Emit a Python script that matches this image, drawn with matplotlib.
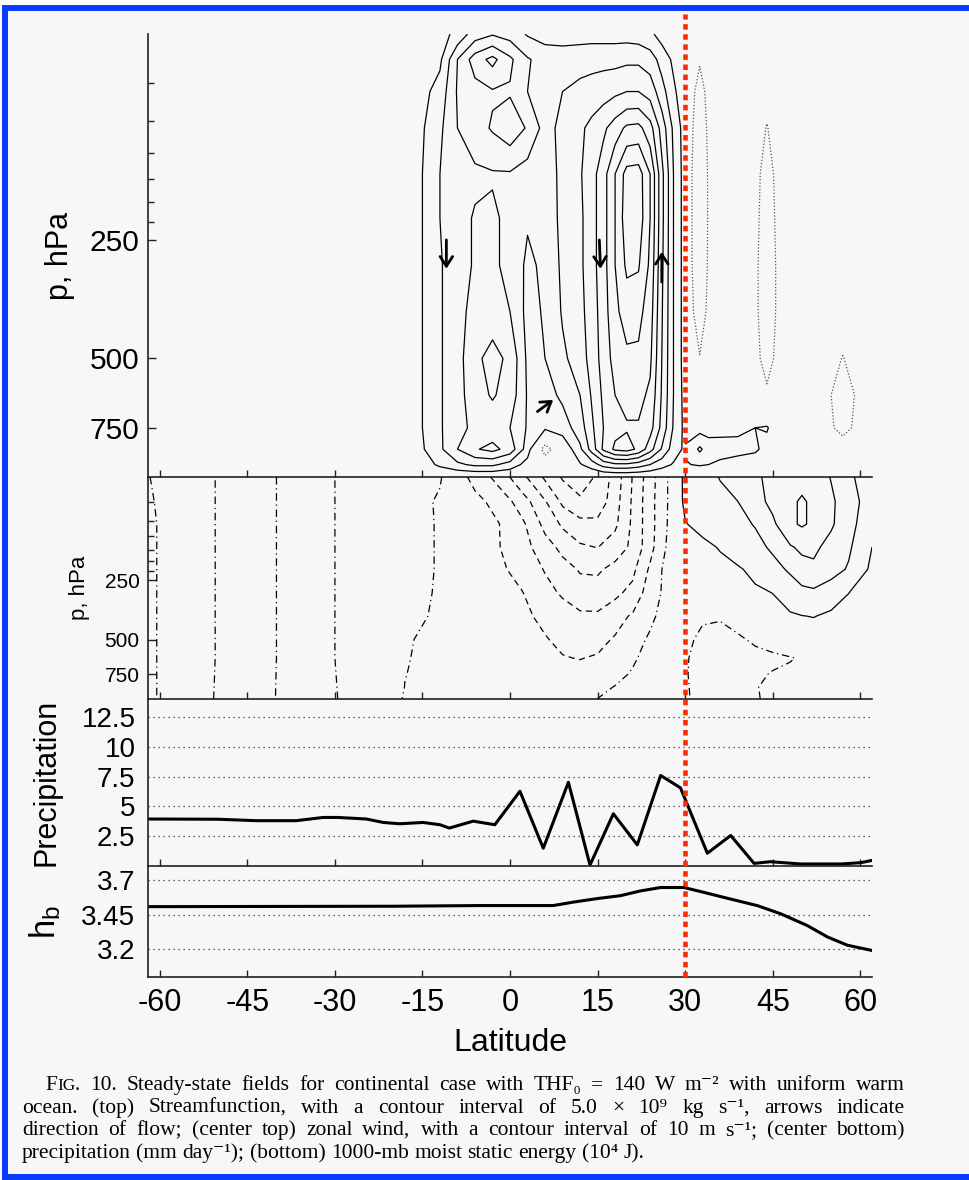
import numpy as np
import matplotlib
matplotlib.use("Agg")
import matplotlib.pyplot as plt
from matplotlib.ticker import FixedLocator, NullFormatter
from matplotlib.transforms import blended_transform_factory
from matplotlib.lines import Line2D
from matplotlib.patches import Rectangle

plt.rcParams['font.family'] = ['Liberation Sans', 'DejaVu Sans']
plt.rcParams['mathtext.default'] = 'regular'

# ---------------- streamfunction (units of 5e9 kg/s) ----------------
p_a = [75, 87, 105, 130, 170, 220, 290, 380, 500, 620, 750, 850, 930, 1000]
lat_a = [-62, -18, -15, -12, -9, -6, -3, 0, 3, 6, 9, 12, 14, 16, 18, 20, 22, 24, 26, 28, 30]
psi_a = [
    [0, 0, 0.2, 0.6, 1.3, 2.5, 2.9, 2.6, 1.9, 1.6, 1.5, 1.6, 1.6, 1.6, 1.6, 1.6, 1.5, 1.2, 0.6, 0.3, 0],
    [0, 0, 0.4, 0.8, 3.0, 4.5, 5.3, 4.2, 3.1, 2.6, 2.6, 2.6, 2.7, 2.7, 2.7, 2.8, 2.8, 2.5, 1.6, 0.8, 0.2],
    [0, 0, 0.7, 1.4, 3.1, 3.6, 3.9, 3.9, 3.0, 2.8, 3.0, 3.3, 3.4, 3.6, 3.8, 4.0, 4.0, 3.6, 2.4, 1.2, 0.3],
    [0, 0, 0.9, 1.8, 3.0, 3.6, 4.1, 4.6, 3.9, 2.6, 3.3, 3.8, 4.3, 4.8, 5.5, 6.2, 6.3, 5.4, 3.6, 1.8, 0.5],
    [0, 0, 1.0, 2.0, 2.6, 2.8, 2.9, 2.9, 2.5, 2.4, 3.3, 3.9, 4.6, 5.6, 7.0, 8.4, 8.5, 7.0, 4.3, 2.0, 0.5],
    [0, 0, 1.0, 2.0, 2.6, 3.1, 3.2, 2.7, 2.1, 2.3, 3.3, 3.8, 4.6, 5.6, 7.0, 8.6, 8.6, 7.0, 4.3, 2.0, 0.5],
    [0, 0, 1.0, 1.9, 2.6, 3.1, 3.2, 2.7, 1.8, 2.2, 3.2, 3.8, 4.6, 5.6, 7.0, 8.2, 8.1, 6.8, 4.2, 2.0, 0.5],
    [0, 0, 1.0, 1.9, 2.6, 3.4, 3.6, 3.0, 1.7, 2.1, 3.1, 3.7, 4.5, 5.5, 6.8, 7.4, 7.3, 6.5, 4.1, 2.0, 0.5],
    [0, 0, 1.0, 1.9, 2.6, 3.8, 4.3, 3.8, 1.8, 2.0, 2.8, 3.5, 4.4, 5.4, 6.4, 6.8, 6.8, 6.2, 4.0, 2.0, 0.5],
    [0, 0, 1.0, 1.9, 2.6, 3.6, 4.1, 3.6, 1.9, 1.6, 2.2, 3.0, 4.1, 5.2, 6.0, 6.3, 6.3, 5.8, 3.9, 2.0, 0.6],
    [0, 0, 1.0, 1.9, 2.6, 3.3, 3.4, 3.0, 1.9, 1.2, 1.5, 2.5, 3.8, 5.0, 5.7, 5.9, 5.9, 5.4, 3.7, 1.9, 0.7],
    [0, 0, 0.9, 1.8, 3.0, 3.9, 4.3, 3.6, 1.5, -1.6, 0.1, 1.8, 3.4, 5.2, 6.2, 6.4, 5.8, 4.4, 2.9, 1.5, 0.8],
    [0, 0, 0.5, 1.2, 1.8, 2.2, 2.2, 1.6, 0.6, -0.1, 0.1, 0.9, 1.5, 2.4, 2.8, 2.8, 2.5, 2.0, 1.4, 0.9, 0.6],
    [0] * 21,
]
lat_b = [30, 31, 32.5, 34, 36, 39, 42, 44, 46, 48, 51, 54.5, 57, 59.5, 62]
psi_b = [
    [0, -0.1, -0.3, -0.1, 0, 0, 0, 0, 0, 0, 0, 0, 0, 0, 0],
    [0, -0.4, -0.9, -0.4, 0, 0, 0, 0, 0, 0, 0, 0, 0, 0, 0],
    [0, -0.7, -1.4, -0.7, 0, 0, -0.3, -0.6, -0.3, 0, 0, 0, 0, 0, 0],
    [0, -0.8, -1.7, -0.8, 0, 0, -0.5, -1.05, -0.5, 0, 0, 0, 0, 0, 0],
    [0, -0.9, -1.8, -0.9, 0, 0, -0.7, -1.4, -0.7, 0, 0, 0, 0, 0, 0],
    [0, -0.9, -1.8, -0.9, 0, 0, -0.75, -1.5, -0.75, 0, 0, 0, 0, 0, 0],
    [0, -0.9, -1.7, -0.9, 0, 0, -0.8, -1.6, -0.8, 0, 0, 0, 0, 0, 0],
    [0, -0.8, -1.5, -0.8, 0, 0, -0.8, -1.6, -0.8, 0, 0, -0.2, -0.4, -0.2, 0],
    [0, -0.5, -0.95, -0.5, 0, 0, -0.7, -1.4, -0.7, 0, 0, -0.5, -1.05, -0.5, 0],
    [0, -0.2, -0.4, -0.2, 0, 0, -0.4, -0.8, -0.4, 0, 0, -0.9, -1.4, -0.9, 0],
    [0.4, 0.5, 0.6, 0.6, 0.7, 0.8, 1.0, 1.1, 0.3, 0, 0, -0.8, -1.3, -0.8, 0],
    [1.2, 1.4, 2.2, 1.5, 1.4, 1.3, 1.2, 0.6, 0.1, 0, 0, -0.3, -0.5, -0.3, 0],
    [0.9, 1.0, 1.1, 1.0, 0.8, 0.6, 0.3, 0.1, 0, 0, 0, 0, -0.1, 0, 0],
    [0] * 15,
]
psi_levels = [1, 2, 3, 4, 5, 6, 7, 8, 9]

# flow arrows: tail -> tip
arrow_tail_lat = [-10.9, 15.3, 26.0, 4.7]
arrow_tail_p = [250, 250, 320, 682]
arrow_tip_lat = [-10.9, 15.5, 26.0, 7.4]
arrow_tip_p = [296, 296, 268, 637]

# ---------------- zonal wind (m/s) ----------------
p_u = [75, 100, 130, 170, 220, 290, 380, 500, 620, 750, 870, 1000]
lat_u = [-62, -55, -45, -35, -24, -18, -12, -6, -2, 2, 6, 9, 12, 15, 18, 21, 24, 27,
         30, 33, 36, 39, 42, 45, 48, 50, 52, 55, 58, 62]
u_wind = [
    [0.3, -5.5, 6.7, -6.7, 8, 4, 0.7, -12.9, -23.5, -36.9, -51.6, -61, -65.5, -58.5, -46, -29.5, -14.3, 0,
     12, 16, 20.5, 24.3, 28.2, 33, 37, 37.5, 35.5, 29.5, 22, 14],
    [1.0, -5.5, 6.7, -6.7, 8, 4, -1.0, -7.3, -13.2, -24.7, -39.1, -52, -58, -56.4, -44.2, -28.6, -13.5, 0,
     11.8, 14.8, 17, 19.9, 26.5, 32.5, 38.5, 41, 38.5, 32, 23.5, 16],
    [1.5, -5.5, 6.7, -6.7, 8, 4, -0.8, -6.1, -9.6, -17.5, -33, -41.5, -46.6, -47.2, -42, -28.2, -13.7, 0.3,
     9.5, 13, 15.5, 17.8, 20.5, 28, 38.5, 41, 38.5, 31.5, 23, 14],
    [1.5, -5.5, 6.7, -6.7, 8, 4, -0.8, -6, -9.5, -15.9, -25.5, -32.9, -38.5, -40.3, -34.6, -28.2, -13.3, 1.5,
     4.5, 7.5, 10.7, 14.1, 17.3, 21.5, 29, 32, 32.5, 26, 21.5, 10],
    [1.5, -5.5, 6.7, -6.7, 8, 4, -0.8, -5.2, -8.2, -13.1, -20.7, -25.8, -31, -31.4, -27.2, -22.5, -8.3, 4,
     4.5, 5.5, 7, 9, 12.2, 16.7, 21.5, 26, 27.5, 24, 19, 8],
    [1.5, -5.5, 6.7, -6.7, 8, 3.5, -1, -5.3, -7.1, -9.5, -16.5, -21.4, -25, -25.6, -22.2, -17, -4.8, 3,
     3.5, 4.2, 5.4, 7, 8.5, 10.1, 14, 17, 18, 14, 10.1, 4],
    [1.5, -5.5, 6.7, -6.7, 8, 2.5, -1.3, -4.5, -6.6, -8.6, -11.5, -14.7, -18.3, -18.4, -13.6, -8.8, -1.9, 4,
     3.5, 0.8, 0.5, 2.5, 5, 7, 9, 9.8, 10.3, 8.5, 6.5, 2],
    [1.5, -5.5, 6.7, -6.7, 8, 0.7, -2, -4.4, -6.1, -7.8, -9.5, -11.6, -14.3, -12.8, -9, -3.8, 1.4, 3,
     1.5, -1.5, -2, -1, 1, 2.5, 4, 5, 5, 4, 3, 1.5],
    [1.5, -5.5, 6.7, -6.7, 8, 0.4, -2, -4, -5.5, -6.9, -8.4, -9.6, -10.3, -9.1, -5.5, -1.2, 3, 2.5,
     0.4, -1.5, -2.5, -2.5, -2, -1.2, -0.3, 0.5, 1.5, 1.5, 1.2, 1],
    [1.5, -5.5, 7, -7.2, 8, 0.1, -1.6, -3.3, -4.5, -5.4, -6.2, -6.8, -7, -5.4, -2.4, 0.9, 2, 2,
     0.3, -1.5, -2, -1.8, -1, 0.4, 1, 0.8, 0.5, 0.5, 0.8, 1],
    [1.5, -5.5, 7.2, -7.6, 8, -0.1, -1.2, -2.5, -3.3, -4, -4.6, -5, -4.8, -2.3, 0.35, 1.2, 2, 1.5,
     0.3, -1, -1.5, -1.2, -0.2, 0.8, 1, 1, 1, 1, 1, 1],
    [1.5, -5.5, 7.5, -8, 8, -0.7, -1.3, -2.1, -2.6, -2.9, -3, -3, -2.2, 0.1, 1, 1.5, 2, 1.5,
     0.3, -0.8, -1.2, -1, -0.2, 0.5, 0.8, 0.8, 0.8, 0.8, 0.8, 0.8],
]
u_neg_levels = [-60, -50, -40, -30, -20, -10]
u_pos_levels = [10, 20, 30, 40]

# ---------------- precipitation (mm/day) ----------------
lat_pr = [-62, -50, -43.5, -36.6, -32, -29.5, -24.6, -21.7, -18.9, -14.9, -12, -10.4, -6.3, -2.6,
          1.7, 5.7, 10.0, 13.7, 17.7, 21.8, 25.8, 29.2, 33.8, 37.8, 41.8, 44.6, 49.8, 56.7, 60.1, 61.8]
precip = [3.94, 3.92, 3.8, 3.8, 4.07, 4.07, 3.94, 3.65, 3.54, 3.65, 3.46, 3.18, 3.76, 3.46,
          6.27, 1.49, 7.02, 0.08, 4.38, 1.77, 7.59, 6.55, 1.07, 2.56, 0.22, 0.36, 0.17, 0.17, 0.28, 0.45]

# ---------------- 1000-mb moist static energy (1e4 J) ----------------
lat_h = [-62, -20, -5, 7.4, 10.9, 14.9, 18.9, 22.3, 25.8, 29.8, 33.2, 36.6, 42.4, 46.4, 50.9, 54.4, 57.8, 61.8]
h_b = [3.507, 3.51, 3.515, 3.515, 3.54, 3.565, 3.586, 3.62, 3.645, 3.645, 3.61, 3.574, 3.514, 3.455,
       3.371, 3.288, 3.229, 3.193]

lat_ticks = [-60, -45, -30, -15, 0, 15, 30, 45, 60]
caption = [
    "F|IG|. 10. Steady-state fields for continental case with THF\u2080 = 140 W m\u207b\u00b2 with uniform warm",
    "ocean. (top) Streamfunction, with a contour interval of 5.0 \u00d7 10\u2079 kg s\u207b\u00b9, arrows indicate",
    "direction of flow; (center top) zonal wind, with a contour interval of 10 m s\u207b\u00b9; (center bottom)",
    "precipitation (mm day\u207b\u00b9); (bottom) 1000-mb moist static energy (10\u2074 J).",
]

W, H = 969, 1180
fig = plt.figure(figsize=(W / 100, H / 100), dpi=100, facecolor='white')


def box(l, t, r, b):
    return [l / W, 1 - b / H, (r - l) / W, (b - t) / H]


# page background and blue frame
fig.add_artist(Rectangle((7 / W, 1 - 1174 / H), 1 - 7 / W, (1174 - 11) / H, transform=fig.transFigure,
                         facecolor='#f7f7f7', edgecolor='none', zorder=-5))
blue = '#0a3cff'
fig.add_artist(Line2D([4.5 / W, 4.5 / W, 1], [1 - 1177 / H, 1 - 8 / H, 1 - 8 / H], transform=fig.transFigure,
                      color=blue, lw=4.3, solid_joinstyle='miter'))
fig.add_artist(Line2D([4.5 / W, 1], [1 - 1177 / H, 1 - 1177 / H], transform=fig.transFigure, color=blue, lw=4.3))

ax1 = fig.add_axes(box(148, 34, 872, 477))
ax2 = fig.add_axes(box(148, 477, 872, 699))
ax3 = fig.add_axes(box(148, 699, 872, 866))
ax4 = fig.add_axes(box(148, 866, 872, 977))
axes = [ax1, ax2, ax3, ax4]

for ax in axes:
    ax.set_facecolor('none')
    ax.set_xlim(-62, 62)
    for s in ['top', 'right']:
        ax.spines[s].set_visible(False)
    for s in ['left', 'bottom']:
        ax.spines[s].set_linewidth(1.2)
        ax.spines[s].set_color('#222222')
    ax.set_xticks(lat_ticks)
    ax.tick_params(axis='x', direction='in', length=5, width=1, color='#222222', labelbottom=False)
    ax.tick_params(axis='y', direction='in', length=6, width=1, color='#222222', pad=6)

# ---- panel 1: streamfunction
ax1.set_yscale('log')
ax1.contour(lat_a, p_a, psi_a, levels=psi_levels, colors='k', linewidths=0.9, linestyles='solid')
ax1.contour(lat_a, p_a, psi_a, levels=[-1], colors='#555555', linewidths=0.9, linestyles=[(0, (1, 1.6))])
ax1.contour(lat_b, p_a, psi_b, levels=psi_levels, colors='k', linewidths=0.9, linestyles='solid')
ax1.contour(lat_b, p_a, psi_b, levels=[-1], colors='#555555', linewidths=0.9, linestyles=[(0, (1, 1.6))])
for i in range(len(arrow_tip_lat)):
    ax1.annotate('', xy=(arrow_tip_lat[i], arrow_tip_p[i]), xytext=(arrow_tail_lat[i], arrow_tail_p[i]),
                 arrowprops=dict(arrowstyle='->,head_length=0.7,head_width=0.45', lw=2, color='k',
                                 shrinkA=0, shrinkB=0))

for ax in [ax1, ax2]:
    ax.set_ylim(1000, 75)
    ax.yaxis.set_major_locator(FixedLocator([250, 500, 750]))
    ax.set_yticklabels(['250', '500', '750'])
    ax.yaxis.set_minor_locator(FixedLocator([100, 125, 150, 175, 200, 225]))
    ax.yaxis.set_minor_formatter(NullFormatter())
    ax.tick_params(axis='y', which='minor', direction='in', length=4, width=1, color='#222222')
ax1.tick_params(axis='y', labelsize=21.5)
ax1.set_ylabel('p, hPa', fontsize=22)
ax1.yaxis.set_label_coords(-0.101, 0.5)

# ---- panel 2: zonal wind
ax2.set_yscale('log')
ax2.set_ylim(1000, 75)
ax2.yaxis.set_major_locator(FixedLocator([250, 500, 750]))
ax2.set_yticklabels(['250', '500', '750'])
ax2.yaxis.set_minor_locator(FixedLocator([100, 125, 150, 175, 200, 225]))
ax2.yaxis.set_minor_formatter(NullFormatter())
ax2.contour(lat_u, p_u, u_wind, levels=u_neg_levels, colors='k', linewidths=0.9, linestyles=[(0, (5, 3.5))])
ax2.contour(lat_u, p_u, u_wind, levels=[0], colors='k', linewidths=0.9, linestyles=[(0, (6, 3, 1, 3))])
ax2.contour(lat_u, p_u, u_wind, levels=u_pos_levels, colors='k', linewidths=0.9, linestyles='solid')
ax2.tick_params(axis='y', labelsize=15)
ax2.set_ylabel('p, hPa', fontsize=16)
ax2.yaxis.set_label_coords(-0.080, 0.5)

# ---- panel 3: precipitation
ax3.plot(lat_pr, precip, color='k', lw=2.2)
ax3.set_ylim(0, 14)
ax3.set_yticks([2.5, 5, 7.5, 10, 12.5])
ax3.set_yticklabels(['2.5', '5', '7.5', '10', '12.5'])
ax3.tick_params(axis='y', labelsize=20, length=0, pad=9)
ax3.yaxis.grid(True, linestyle=(0, (1, 3)), color='#333333', lw=0.9)
ax3.set_ylabel('Precipitation', fontsize=22)
ax3.yaxis.set_label_coords(-0.119, 0.5)

# ---- panel 4: moist static energy
ax4.plot(lat_h, h_b, color='k', lw=2.2)
ax4.set_ylim(3.0, 3.8)
ax4.set_yticks([3.2, 3.45, 3.7])
ax4.set_yticklabels(['3.2', '3.45', '3.7'])
ax4.tick_params(axis='y', labelsize=20, length=0, pad=9)
ax4.yaxis.grid(True, linestyle=(0, (1, 3)), color='#333333', lw=0.9)
ax4.set_ylabel('$h_b$', fontsize=25)
ax4.yaxis.set_label_coords(-0.117, 0.5)
ax4.tick_params(axis='x', labelbottom=True, labelsize=22, pad=8)
ax4.set_xticklabels([str(v) for v in lat_ticks])
ax4.set_xlabel('Latitude', fontsize=23, labelpad=7)

# red dotted line at 30N through all panels
red = Line2D([30, 30], [1 - 977 / H, 1 - 14 / H], transform=blended_transform_factory(ax4.transData, fig.transFigure),
             color='#ff2a00', lw=3.3, linestyle=(0, (1.2, 1.0)), dash_capstyle='butt')
fig.add_artist(red)

# caption, justified word by word like the journal layout
serif = ['Liberation Serif', 'DejaVu Serif']
cap_size = 15.5
fig.canvas.draw()
renderer = fig.canvas.get_renderer()


def caption_line(text, x_start, x_end, y_px, justify):
    y = 1 - y_px / H
    words = []
    for word in text.split(' '):
        pieces = []
        for k, part in enumerate(word.split('|')):
            size = cap_size * 0.8 if (word.startswith('F|') and k == 1) else cap_size
            t = fig.text(0, y, part, fontsize=size, family=serif, va='baseline', ha='left')
            pieces.append((t, t.get_window_extent(renderer).width))
        words.append(pieces)
    total = sum(w for pieces in words for _, w in pieces)
    if justify:
        gap = (x_end - x_start - total) / (len(words) - 1)
    else:
        gap = cap_size * 100 / 72 * 0.25
    x = x_start
    for pieces in words:
        for t, w in pieces:
            t.set_x(x / W)
            x += w
        x += gap


caption_line(caption[0], 45, 905, 1090, True)
caption_line(caption[1], 22, 905, 1113, True)
caption_line(caption[2], 22, 905, 1135, True)
caption_line(caption[3], 22, 905, 1158, False)

fig.savefig('out.png', dpi=100, facecolor='white')
